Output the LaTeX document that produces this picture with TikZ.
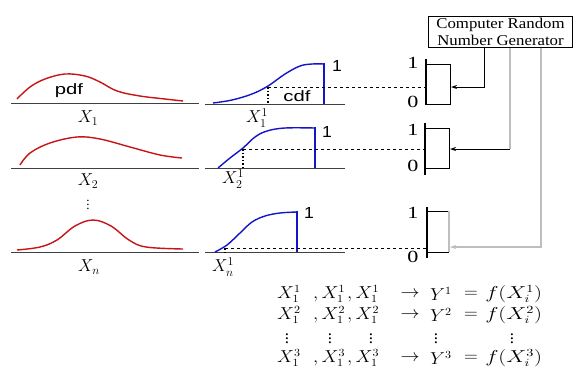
\documentclass[tikz,border=0pt]{standalone}
\usepackage{fontspec}
\setmainfont{Liberation Serif}
\setsansfont{Liberation Sans}
\usetikzlibrary{arrows.meta,calc}
\definecolor{pdfred}{RGB}{200,20,20}
\definecolor{cdfblue}{RGB}{20,20,200}
\definecolor{wiregray}{RGB}{190,190,190}
\tikzset{
  axisline/.style={line width=1pt,black!75},
  pdfcurve/.style={pdfred,line width=1.4pt,smooth,tension=0.6},
  cdfcurve/.style={cdfblue,line width=1.4pt,smooth,tension=0.6},
  cdfbar/.style={cdfblue,line width=2.6pt},
  level/.style={dashed,dash pattern=on 3pt off 3pt,line width=0.8pt},
  drop/.style={dotted,line width=1.6pt},
  swbar/.style={line width=2.2pt},
  swbox/.style={line width=0.9pt},
  wire/.style={line width=0.9pt},
  graywire/.style={wiregray,line width=1.1pt},
  tip/.style={-{Stealth[length=6pt,width=4pt]}},
  xlab/.style={inner sep=0pt,font=\fontsize{17}{20}\selectfont},
  flab/.style={inner sep=0pt,font=\fontsize{16}{19}\selectfont,xscale=1.1},
  dlab/.style={inner sep=0pt,font=\fontsize{13}{15}\selectfont},
  fdots/.style={inner sep=0pt,font=\fontsize{17}{19}\selectfont},
  sflab/.style={inner sep=0pt,font=\sffamily\fontsize{15}{17}\selectfont,xscale=1.35},
  onelab/.style={inner sep=0pt,font=\sffamily\fontsize{16}{18}\selectfont,xscale=1.1},
  swlab/.style={inner sep=0pt,font=\fontsize{17}{19}\selectfont,xscale=1.3},
}
\begin{document}
\begin{tikzpicture}[x=1pt,y=-1pt]
\useasboundingbox (0,0) rectangle (577,378);
\fill[white] (0,0) rectangle (577,378);

% ---------- pdf panels ----------
\draw[axisline] (11,103) -- (199,103);
\draw[axisline] (11,168) -- (199,168);
\draw[axisline] (11,252) -- (199,252);
\draw[pdfcurve] plot coordinates {(17,99) (30,87) (45,79) (65,74) (85,76) (100,82) (117,91) (140,96) (165,99) (183,101)};
\draw[pdfcurve] plot coordinates {(20,165) (30,153) (50,143) (77,137) (100,139) (130,147) (160,155) (182,158)};
\draw[pdfcurve] plot coordinates {(17,250) (40,247) (57,240) (75,226) (93,220) (111,226) (129,240) (146,247) (183,249)};
\node[sflab] (pdf) at (69,91) {pdf};
\node[xlab] (x1) at (88,118) {$X_1$};
\node[xlab] (x2) at (88,181) {$X_2$};
\node[dlab] (ldots) at (88,202) {$\vdots$};
\node[xlab] (xn) at (89,267) {$X_n$};

% ---------- cdf panels ----------
\draw[axisline] (205,104) -- (345,104);
\draw[axisline] (205,168) -- (345,168);
\draw[axisline] (205,252) -- (345,252);
\draw[cdfcurve] plot coordinates {(213,103) (232,100) (252,94) (268,86) (285,74) (300,66) (312,64) (324,64)};
\draw[cdfbar] (324,63) -- (324,104);
\draw[cdfcurve] plot coordinates {(218,168) (230,158) (243,148) (255,137) (267,131) (285,128) (315,128)};
\draw[cdfbar] (315,127) -- (315,168);
\draw[cdfcurve] plot coordinates {(215,252) (227,245) (240,233) (252,222) (265,216) (280,213) (297,212)};
\draw[cdfbar] (297,211) -- (297,252);
\node[onelab] (one1) at (337,66) {1};
\node[onelab] (one2) at (327,132) {1};
\node[onelab] (one3) at (309,213) {1};
\node[sflab] (cdf) at (297,96) {cdf};
\node[xlab] (x11) at (257,118) {$X_1^1$};
\node[xlab] (x21) at (233,179) {$X_2^1$};
\node[xlab] (xn1) at (223,267) {$X_n^1$};

% level points
\coordinate (p1) at (268,87);
\coordinate (p2) at (243,149);
\coordinate (p3) at (225,248);
\draw[drop] (p1) -- (268,104);
\draw[drop] (p2) -- (243,168);
\draw[drop] (p3) -- (225,252);

% ---------- switches ----------
\coordinate (s1) at (426,87);
\coordinate (s2) at (425,149);
\coordinate (s3) at (426,248);
\draw[swbar] (426,59) -- (426,105);
\draw[swbox] (426,64) -| (450,104) -- (426,104);
\draw[swbar] (425,123) -- (425,175);
\draw[swbox] (425,128) -| (449,168) -- (425,168);
\draw[swbar] (427,207) -- (427,258);
\draw[swbox] (427,211) -- (449,211);
\draw[graywire] (449,211) -- (449,252);
\draw[swbox] (427,252) -- (449,252);
\node[swlab] (sw1a) at (413,63) {1};
\node[swlab] (sw1b) at (413,102) {0};
\node[swlab] (sw2a) at (413,130) {1};
\node[swlab] (sw2b) at (413,166) {0};
\node[swlab] (sw3a) at (413,213) {1};
\node[swlab] (sw3b) at (413,257) {0};

\draw[level] (p1) -- (s1);
\draw[level] (p2) -- (s2);
\draw[level] (p3) -- (s3);

% ---------- random number generator ----------
\node[draw,line width=0.9pt,inner xsep=7pt,inner ysep=1.5pt,align=center,
      font=\fontsize{15}{17}\selectfont,xscale=1.12] (rng) at (500.5,32)
      {Computer Random\\Number Generator};
\coordinate (in1) at (451,87);
\coordinate (in2) at (450,149);
\coordinate (in3) at (450,247);
\coordinate (c1) at (484,0);
\coordinate (c2) at (510,0);
\coordinate (c3) at (541,0);
\draw[wire,tip] (rng.south -| c1) |- (in1);
\draw[graywire] (rng.south -| c2) -- (510,149);
\draw[wire,tip] (510,149) -- (in2);
\draw[graywire,tip] (rng.south -| c3) |- (in3);

% ---------- formulas ----------
\node[flab,anchor=west] (a11) at (277,294) {$X_1^1$};
\node[flab,anchor=west] (a12) at (313,294) {$,X_1^1$};
\node[flab,anchor=west] (a13) at (347,294) {$,X_1^1$};
\node[flab] (ar1) at (410,294) {$\rightarrow$};
\node[flab,anchor=west] (y1) at (430,294) {$Y^1$};
\node[flab] (eq1) at (471,294) {$=$};
\node[flab,anchor=west,xscale=1.18] (f1) at (485,294) {$f(X_i^1)$};

\node[flab,anchor=west] (a21) at (277,315) {$X_1^2$};
\node[flab,anchor=west] (a22) at (313,315) {$,X_1^2$};
\node[flab,anchor=west] (a23) at (347,315) {$,X_1^2$};
\node[flab] (ar2) at (410,315) {$\rightarrow$};
\node[flab,anchor=west] (y2) at (430,315) {$Y^2$};
\node[flab] (eq2) at (471,315) {$=$};
\node[flab,anchor=west,xscale=1.18] (f2) at (485,315) {$f(X_i^2)$};

\node[fdots] (d1) at (287,336) {$\vdots$};
\node[fdots] (d2) at (330,336) {$\vdots$};
\node[fdots] (d3) at (371,336) {$\vdots$};
\node[fdots] (d4) at (436,336) {$\vdots$};
\node[fdots] (d5) at (512,336) {$\vdots$};

\node[flab,anchor=west] (a31) at (277,358) {$X_1^3$};
\node[flab,anchor=west] (a32) at (313,358) {$,X_1^3$};
\node[flab,anchor=west] (a33) at (347,358) {$,X_1^3$};
\node[flab] (ar3) at (410,358) {$\rightarrow$};
\node[flab,anchor=west] (y3) at (430,358) {$Y^3$};
\node[flab] (eq3) at (471,358) {$=$};
\node[flab,anchor=west,xscale=1.18] (f3) at (485,358) {$f(X_i^3)$};
\end{tikzpicture}
\end{document}
